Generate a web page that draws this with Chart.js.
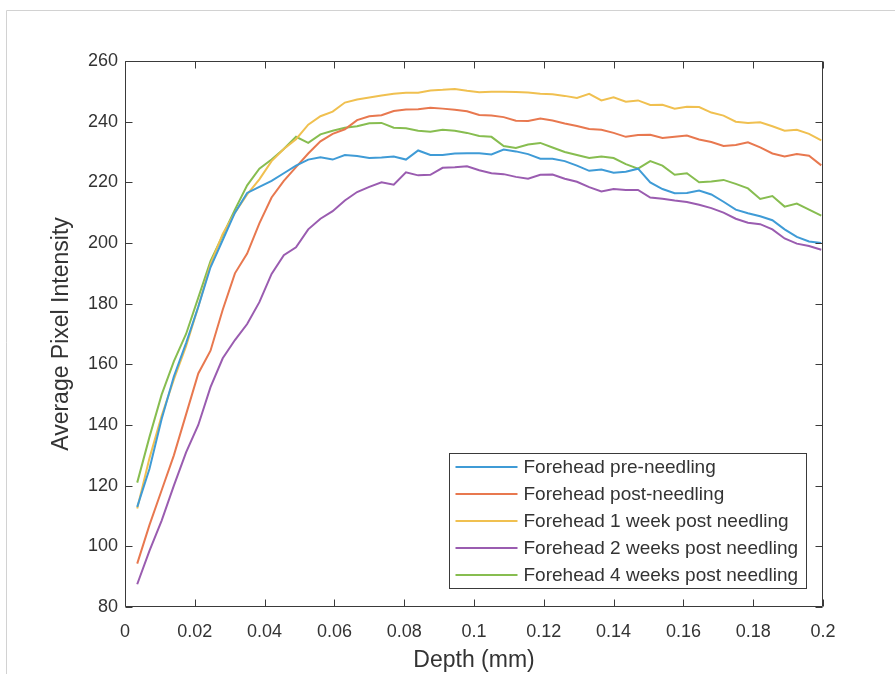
<!DOCTYPE html>
<html>
<head>
<meta charset="utf-8">
<script src="https://cdn.jsdelivr.net/npm/chart.js@4.4.1/dist/chart.umd.min.js"></script>
<style>
html,body{margin:0;padding:0;background:#fff;overflow:hidden}
canvas{display:block}
</style>
</head>
<body>
<canvas id="c" width="895" height="674"></canvas>
<script>
// ---- data ----
const depth = [0.0035,0.007,0.0105,0.014,0.0175,0.021,0.0245,0.028,0.0315,0.035,
  0.0385,0.042,0.0455,0.049,0.0525,0.056,0.0595,0.063,0.0665,0.07,
  0.0735,0.077,0.0805,0.084,0.0875,0.091,0.0945,0.098,0.1015,0.105,
  0.1085,0.112,0.1155,0.119,0.1225,0.126,0.1295,0.133,0.1365,0.14,
  0.1435,0.147,0.1505,0.154,0.1575,0.161,0.1645,0.168,0.1715,0.175,
  0.1785,0.182,0.1855,0.189,0.1925,0.196,0.1995];

const preNeedling = [113,125.5,142,156,167,179,192,201,210,216.5,
  218.5,220.5,223,225.5,227.5,228.3,227.5,229,228.7,228,
  228.2,228.5,227.5,230.5,229,229,229.5,229.6,229.6,229.2,
  230.8,230.2,229.3,227.8,227.8,227,225.5,223.8,224.2,223.2,
  223.5,224.5,220,217.8,216.4,216.5,217.3,216,213.6,211,
  209.8,208.8,207.5,204.5,202,200.5,200];

const postNeedling = [94.3,107,118.5,130,143.5,157,164.5,178,190,196.5,
  206.5,215,220.5,225,229.5,233.5,236,237.5,240.5,241.8,
  242.1,243.5,244,244.1,244.6,244.3,243.9,243.4,242.2,242,
  241.5,240.3,240.2,241,240.4,239.4,238.6,237.6,237.3,236.3,
  235,235.6,235.7,234.6,235,235.4,234.1,233.3,232,232.3,
  233.2,231.5,229.5,228.5,229.3,228.8,225.6];

const week1Post = [112.5,129,143,155,166,179,193,203,210,216,
  221,227,231,234.2,239,241.8,243.3,246.3,247.3,248,
  248.6,249.2,249.5,249.5,250.3,250.5,250.8,250.2,249.7,249.9,
  249.9,249.8,249.6,249.2,249,248.5,247.8,249.2,247,248,
  246.6,247,245.5,245.6,244.3,244.9,244.8,243,242,240,
  239.6,239.8,238.5,237,237.3,236,233.8];

const week2Post = [87.5,98.5,108.5,120,131,140,152.5,162,168,173.3,
  180.5,189.8,196,198.6,204.5,208,210.5,214,216.8,218.5,
  220,219.2,223.3,222.3,222.5,224.8,225,225.3,224,223,
  222.7,221.8,221.2,222.5,222.6,221.2,220.2,218.4,217,217.8,
  217.5,217.5,215,214.6,214,213.5,212.6,211.5,210,208,
  206.7,206.2,204.5,201.5,199.8,199,197.8];

const week4Post = [121,136,150,161,170,182,194,202.5,211,219,
  224.5,227.5,231,235,233,235.8,237,238,238.5,239.5,
  239.6,238,237.8,237,236.7,237.3,237,236.3,235.3,235,
  232,231.3,232.5,233,231.5,230,229,228,228.5,228,
  226,224.5,227,225.5,222.5,223,220,220.3,220.8,219.5,
  218,214.5,215.5,212,213,211,209];

const seriesLabels = ['Forehead pre-needling','Forehead post-needling','Forehead 1 week post needling','Forehead 2 weeks post needling','Forehead 4 weeks post needling'];
const xTickValues = [0,0.02,0.04,0.06,0.08,0.1,0.12,0.14,0.16,0.18,0.2];
const yTickValues = [80,100,120,140,160,180,200,220,240,260];
const xTitle = 'Depth (mm)';
const yTitle = 'Average Pixel Intensity';

// ---- styling ----
const colors = ['#3f9bd6','#e8784f','#f0c050','#9a5cb0','#87bd50'];
const allSeries = [preNeedling, postNeedling, week1Post, week2Post, week4Post];
const axisColor = '#3a3a3a';
const textColor = '#333333';
const FONT = '"Liberation Sans", Arial, Helvetica, sans-serif';

Chart.defaults.font.family = FONT;

const datasets = allSeries.map((vals, i) => ({
  label: seriesLabels[i],
  data: depth.map((d, j) => ({x: d, y: vals[j]})),
  borderColor: colors[i],
  backgroundColor: colors[i],
  borderWidth: 2,
  pointRadius: 0,
  tension: 0,
  fill: false
}));

const framePlugin = {
  id: 'frame',
  beforeDraw(chart) {
    const ctx = chart.ctx;
    ctx.save();
    ctx.fillStyle = '#fff';
    ctx.fillRect(0, 0, chart.width, chart.height);
    ctx.strokeStyle = '#d2d2d2';
    ctx.lineWidth = 1;
    ctx.beginPath();
    ctx.moveTo(6.5, chart.height);
    ctx.lineTo(6.5, 10.5);
    ctx.lineTo(chart.width, 10.5);
    ctx.stroke();
    ctx.restore();
  }
};

const boxPlugin = {
  id: 'axisBox',
  afterDatasetsDraw(chart) {
    const ctx = chart.ctx, a = chart.chartArea;
    const xs = chart.scales.x, ys = chart.scales.y;
    const tl = 7;
    ctx.save();
    ctx.strokeStyle = axisColor;
    ctx.lineWidth = 1;
    ctx.beginPath();
    const L = Math.round(a.left) + 0.5, R = Math.round(a.right) - 0.5;
    const T = Math.round(a.top) + 0.5, B = Math.round(a.bottom) - 0.5;
    ctx.rect(L, T, R - L, B - T);
    xs.ticks.forEach(t => {
      const px = Math.round(xs.getPixelForValue(t.value)) + 0.5;
      ctx.moveTo(px, B); ctx.lineTo(px, B - tl);
      ctx.moveTo(px, T); ctx.lineTo(px, T + tl);
    });
    ys.ticks.forEach(t => {
      const py = Math.round(ys.getPixelForValue(t.value)) + 0.5;
      ctx.moveTo(L, py); ctx.lineTo(L + tl, py);
      ctx.moveTo(R, py); ctx.lineTo(R - tl, py);
    });
    ctx.stroke();
    ctx.restore();
  }
};

const legendPlugin = {
  id: 'boxLegend',
  afterDraw(chart) {
    const ctx = chart.ctx, a = chart.chartArea;
    const ds = chart.data.datasets;
    ctx.save();
    ctx.font = '19px ' + FONT;
    const rowH = 27, lineLen = 62, padL = 6, gap = 6, padR = 8;
    const tw = Math.max(...ds.map(d => ctx.measureText(d.label).width));
    const w = padL + lineLen + gap + tw + padR;
    const h = rowH * ds.length;
    const right = a.right - 17, bottom = a.bottom - 19;
    const left = Math.round(right - w) + 0.5, top = Math.round(bottom - h) + 0.5;
    ctx.fillStyle = '#fff';
    ctx.fillRect(left, top, w, h);
    ctx.strokeStyle = axisColor;
    ctx.lineWidth = 1;
    ctx.strokeRect(left, top, Math.round(w), h);
    ds.forEach((d, i) => {
      const cy = top + rowH * (i + 0.5);
      ctx.strokeStyle = d.borderColor;
      ctx.lineWidth = 2;
      ctx.beginPath();
      ctx.moveTo(left + padL, cy);
      ctx.lineTo(left + padL + lineLen, cy);
      ctx.stroke();
      ctx.fillStyle = textColor;
      ctx.textBaseline = 'middle';
      ctx.textAlign = 'left';
      ctx.fillText(d.label, left + padL + lineLen + gap, cy + 1);
    });
    ctx.restore();
  }
};

new Chart(document.getElementById('c'), {
  type: 'line',
  data: { datasets },
  options: {
    responsive: false,
    animation: false,
    devicePixelRatio: 1,
    layout: { padding: { left: 0, top: 61, right: 72, bottom: 0 } },
    plugins: { legend: { display: false }, tooltip: { enabled: false } },
    scales: {
      x: {
        type: 'linear',
        min: 0, max: 0.2,
        afterBuildTicks: s => { s.ticks = xTickValues.map(v => ({value: v})); },
        afterFit: s => { s.height = 67; },
        grid: { display: false, drawTicks: false },
        border: { display: false },
        ticks: {
          color: textColor, font: { size: 18 }, padding: 14,
          maxRotation: 0, autoSkip: false,
          callback: v => String(parseFloat(Number(v).toFixed(2)))
        },
        title: { display: true, text: xTitle, color: textColor, font: { size: 23 }, padding: { top: 0, bottom: 0 } }
      },
      y: {
        type: 'linear',
        min: 80, max: 260,
        afterBuildTicks: s => { s.ticks = yTickValues.map(v => ({value: v})); },
        afterFit: s => { s.width = 125; },
        grid: { display: false, drawTicks: false },
        border: { display: false },
        ticks: { color: textColor, font: { size: 18 }, padding: 7, autoSkip: false },
        title: { display: true, text: yTitle, color: textColor, font: { size: 23 }, padding: { top: 48, bottom: 0 } }
      }
    }
  },
  plugins: [framePlugin, boxPlugin, legendPlugin]
});
</script>
</body>
</html>
